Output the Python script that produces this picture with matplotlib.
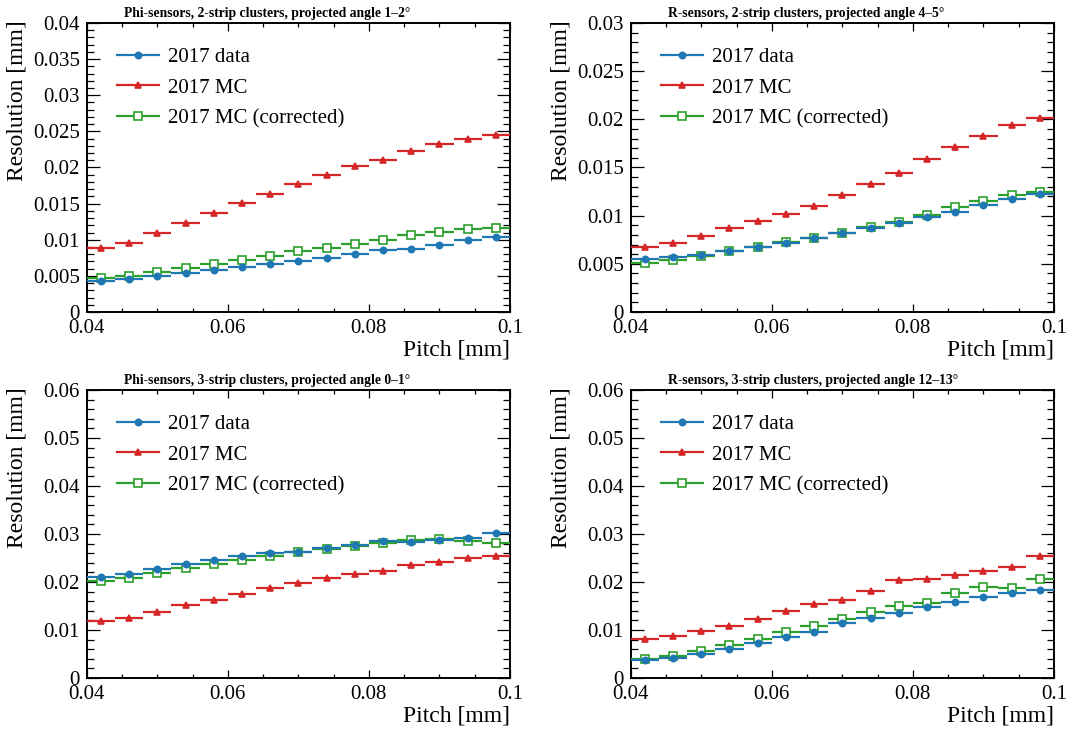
import numpy as np
import matplotlib
matplotlib.use('Agg')
import matplotlib.pyplot as plt
from matplotlib.lines import Line2D
from matplotlib.ticker import MultipleLocator, FuncFormatter

plt.rcParams['font.family'] = ['Liberation Serif', 'DejaVu Serif']

# pitch bins (mm)
bin_lo = np.arange(0.040, 0.0999, 0.004)
pitch = bin_lo + 0.002

labels = ['2017 data', '2017 MC', '2017 MC (corrected)']
titles = ['Phi-sensors, 2-strip clusters, projected angle 1\u20132\u00b0',
          'R-sensors, 2-strip clusters, projected angle 4\u20135\u00b0',
          'Phi-sensors, 3-strip clusters, projected angle 0\u20131\u00b0',
          'R-sensors, 3-strip clusters, projected angle 12\u201313\u00b0']

# resolution values in units of 1e-3 mm
phi2_data = [4.30, 4.53, 4.95, 5.36, 5.78, 6.20, 6.61, 7.03, 7.45, 8.05, 8.55, 8.74, 9.29, 9.94, 10.45]
phi2_mc   = [8.83, 9.57, 10.91, 12.30, 13.64, 15.03, 16.37, 17.71, 19.01, 20.21, 21.09, 22.34, 23.21, 23.95, 24.46]
phi2_corr = [4.67, 4.95, 5.55, 6.10, 6.66, 7.26, 7.82, 8.42, 8.92, 9.39, 9.90, 10.59, 11.10, 11.47, 11.65]

r2_data = [5.51, 5.69, 5.93, 6.35, 6.76, 7.21, 7.67, 8.22, 8.74, 9.26, 9.82, 10.41, 11.06, 11.76, 12.21]
r2_mc   = [6.73, 7.21, 7.94, 8.71, 9.47, 10.13, 10.96, 12.14, 13.28, 14.43, 15.85, 17.17, 18.31, 19.42, 20.15]
r2_corr = [5.10, 5.38, 5.83, 6.31, 6.76, 7.25, 7.70, 8.25, 8.81, 9.33, 10.06, 10.86, 11.52, 12.14, 12.45]

phi3_data = [21.02, 21.64, 22.69, 23.66, 24.57, 25.40, 26.03, 26.31, 27.00, 27.77, 28.53, 28.32, 28.67, 29.23, 30.27]
phi3_mc   = [11.97, 12.60, 13.85, 15.17, 16.35, 17.54, 18.79, 19.83, 20.88, 21.64, 22.34, 23.45, 24.22, 24.91, 25.33]
phi3_corr = [20.11, 20.74, 21.78, 22.83, 23.80, 24.63, 25.40, 26.24, 26.93, 27.49, 28.04, 28.67, 28.88, 28.53, 28.04]

r3_data = [3.76, 4.11, 4.94, 6.12, 7.31, 8.49, 9.67, 11.48, 12.53, 13.50, 14.75, 15.80, 16.91, 17.68, 18.30]
r3_mc   = [8.21, 8.77, 9.88, 10.86, 12.25, 14.06, 15.38, 16.21, 18.16, 20.39, 20.60, 21.43, 22.20, 23.10, 25.33]
r3_corr = [4.04, 4.52, 5.71, 6.96, 8.14, 9.60, 10.93, 12.25, 13.78, 15.10, 15.66, 17.68, 19.00, 18.79, 20.67]

panels = [(phi2_data, phi2_mc, phi2_corr), (r2_data, r2_mc, r2_corr),
          (phi3_data, phi3_mc, phi3_corr), (r3_data, r3_mc, r3_corr)]
ymax = [0.04, 0.03, 0.06, 0.06]
ymajor = [0.005, 0.005, 0.01, 0.01]

colors = ['#1f77b4', '#d62728', '#2ca02c']
markers = ['o', '^', 's']
msizes = [4.5, 4.5, 6]

# axes boxes [left, bottom, width, height] in figure fraction
boxes = [[0.0807, 0.5749, 0.3937, 0.3938],
         [0.5867, 0.5749, 0.3938, 0.3938],
         [0.0807, 0.0763, 0.3937, 0.3924],
         [0.5867, 0.0763, 0.3938, 0.3924]]

fig = plt.figure(figsize=(10.75, 7.34), dpi=100)
fmt = FuncFormatter(lambda v, p: '%g' % round(v, 6))

for k in range(4):
    ax = fig.add_axes(boxes[k])
    for i in range(3):
        y = np.array(panels[k][i]) * 1e-3
        mfc = 'white' if i == 2 else colors[i]
        ax.errorbar(pitch, y, xerr=0.002, fmt=markers[i], color=colors[i],
                    ms=msizes[i], mfc=mfc, mec=colors[i], mew=1.2,
                    elinewidth=1.6, capsize=0, zorder=3 - i * 0.1)
    ax.set_xlim(0.04, 0.1)
    ax.set_ylim(0, ymax[k])
    ax.xaxis.set_major_locator(MultipleLocator(0.02))
    ax.xaxis.set_minor_locator(MultipleLocator(0.005))
    ax.yaxis.set_major_locator(MultipleLocator(ymajor[k]))
    ax.yaxis.set_minor_locator(MultipleLocator(ymajor[k] / 5))
    ax.xaxis.set_major_formatter(fmt)
    ax.yaxis.set_major_formatter(fmt)
    ax.tick_params(which='both', direction='in', top=True, right=True,
                   labelsize=15, width=0.9)
    ax.tick_params(axis='y', which='major', length=9.5, pad=5)
    ax.tick_params(axis='y', which='minor', length=5)
    ax.tick_params(axis='x', which='major', length=6, pad=5)
    ax.tick_params(axis='x', which='minor', length=3)
    for s in ax.spines.values():
        s.set_linewidth(1.4)

    ax.set_xlabel('Pitch [mm]', fontsize=17, loc='right')
    ax.set_ylabel('Resolution [mm]', fontsize=17, loc='top')
    ax.xaxis.set_label_coords(1.0, -0.095)
    ax.yaxis.set_label_coords(-0.139, 1.01)

    ax.text(0.088, 1.012, titles[k], transform=ax.transAxes, fontsize=9.8,
            fontweight='bold', ha='left', va='bottom')

    handles = [Line2D([], [], color=colors[i], marker=markers[i], ms=msizes[i],
                      mfc=('white' if i == 2 else colors[i]), mec=colors[i],
                      mew=1.2, lw=1.6) for i in range(3)]
    ax.legend(handles, labels, loc='upper left', bbox_to_anchor=(0.037, 0.965),
              frameon=False, fontsize=15, handlelength=2.0, handletextpad=0.45,
              labelspacing=0.52, borderpad=0.2, numpoints=1)

fig.savefig('out.png', dpi=100)
